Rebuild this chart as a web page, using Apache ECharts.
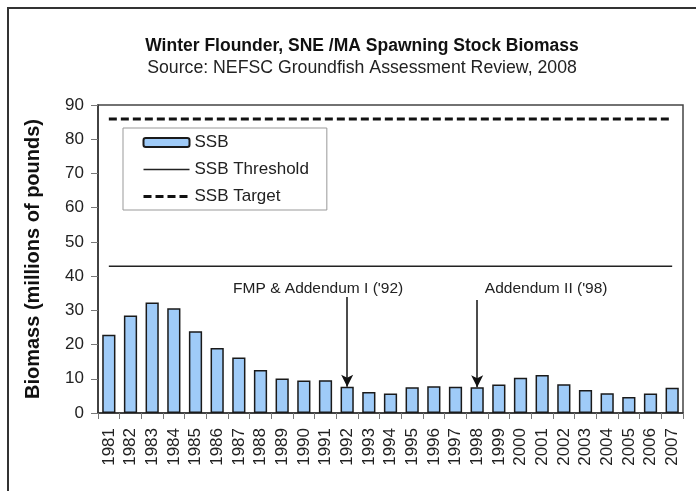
<!DOCTYPE html>
<html>
<head>
<meta charset="utf-8">
<script src="https://cdn.jsdelivr.net/npm/echarts@6/dist/echarts.min.js"></script>
<style>html,body{margin:0;padding:0;background:#fff;}#c{width:696px;height:491px;}</style>
</head>
<body>
<div id="c"></div>
<script>
const years = ['1981','1982','1983','1984','1985','1986','1987','1988','1989','1990','1991','1992','1993','1994','1995','1996','1997','1998','1999','2000','2001','2002','2003','2004','2005','2006','2007'];
const ssb = [22.9,28.5,32.3,30.6,23.9,19.0,16.2,12.6,10.1,9.5,9.6,7.7,6.1,5.7,7.5,7.8,7.7,7.5,8.3,10.3,11.1,8.4,6.7,5.8,4.7,5.7,7.4];
const ssbThreshold = 42.9;
const ssbTarget = 85.9;
const yTicks = [0,10,20,30,40,50,60,70,80,90];
const annotations = [
  {year: '1992', text: "FMP & Addendum I ('92)", textValue: 36.3, arrowStart: 33.9, dx: -29},
  {year: '1998', text: "Addendum II ('98)", textValue: 36.3, arrowStart: 33.0, dx: 69}
];

const font = "Arial, 'Liberation Sans', Helvetica, sans-serif";
const chart = echarts.init(document.getElementById('c'), null, {renderer: 'canvas'});
const first = years[0], last = years[years.length - 1];

chart.setOption({
  animation: false,
  backgroundColor: '#fff',
  textStyle: {fontFamily: font, color: '#222'},
  title: {
    text: 'Winter Flounder, SNE /MA Spawning Stock Biomass',
    subtext: 'Source: NEFSC Groundfish Assessment Review, 2008',
    left: 362, top: 37, textAlign: 'center', itemGap: 4, padding: 0,
    textStyle: {fontFamily: font, fontSize: 17.5, fontWeight: 'bold', color: '#111'},
    subtextStyle: {fontFamily: font, fontSize: 17.7, color: '#222'}
  },
  graphic: [{
    type: 'rect', silent: true, z: 100,
    shape: {x: 8, y: 8, width: 760, height: 560},
    style: {fill: 'none', stroke: '#333', lineWidth: 2}
  }],
  legend: {
    orient: 'vertical', left: 123, top: 128,
    padding: [6, 18, 5, 19], itemGap: 10,
    itemWidth: 46, itemHeight: 9,
    borderColor: '#999', borderWidth: 1,
    textStyle: {fontFamily: font, fontSize: 17, color: '#222'},
    data: [
      {name: 'SSB'},
      {name: 'SSB Threshold', itemStyle: {opacity: 0}, lineStyle: {width: 1.5, color: '#222'}},
      {name: 'SSB Target', itemStyle: {opacity: 0}, lineStyle: {width: 3, color: '#111', type: [8, 4]}}
    ]
  },
  grid: {left: 98, right: 13, top: 105, bottom: 78, show: true, borderColor: '#444', borderWidth: 1.5, backgroundColor: 'transparent'},
  xAxis: {
    type: 'category', data: years, boundaryGap: true,
    axisLine: {lineStyle: {color: '#333', width: 1.5}},
    axisTick: {show: true, alignWithLabel: false, length: 6, lineStyle: {color: '#777'}},
    axisLabel: {rotate: 90, fontSize: 17, color: '#222', margin: 15, fontFamily: font, interval: 0}
  },
  yAxis: {
    type: 'value', min: yTicks[0], max: yTicks[yTicks.length - 1], interval: 10,
    name: 'Biomass (millions of pounds)', nameLocation: 'middle', nameGap: 55,
    nameTextStyle: {fontFamily: font, fontSize: 20, fontWeight: 'bold', color: '#111'},
    axisLine: {show: true, lineStyle: {color: '#333', width: 1.5}},
    axisTick: {show: true, length: 7, lineStyle: {color: '#777'}},
    axisLabel: {fontSize: 17, color: '#222', margin: 14, fontFamily: font},
    splitLine: {show: false}
  },
  series: [
    {
      name: 'SSB', type: 'bar', data: ssb, barWidth: '61%',
      itemStyle: {color: '#9fcbf8', borderColor: '#1a1a1a', borderWidth: 1.5},
      markLine: {
        silent: true, animation: false,
        symbol: ['none', 'arrow'], symbolSize: [9, 12],
        lineStyle: {color: '#111', width: 1.5, type: 'solid'},
        label: {show: false},
        data: annotations.map(a => [
          {coord: [a.year, a.arrowStart]},
          {coord: [a.year, ssb[years.indexOf(a.year)]]}
        ])
      },
      markPoint: {
        silent: true, symbol: 'rect', symbolSize: 0,
        label: {show: true, position: 'inside', fontFamily: font, fontSize: 15.5, color: '#222', formatter: p => p.name},
        data: annotations.map(a => ({name: a.text, coord: [a.year, a.textValue], label: {offset: [a.dx, 0]}}))
      }
    },
    {
      name: 'SSB Threshold', type: 'line', symbol: 'none',
      data: [[first, ssbThreshold], [last, ssbThreshold]],
      lineStyle: {color: '#222', width: 1.5}, itemStyle: {color: '#222', opacity: 0}
    },
    {
      name: 'SSB Target', type: 'line', symbol: 'none',
      data: [[first, ssbTarget], [last, ssbTarget]],
      lineStyle: {color: '#111', width: 3, type: [8, 4]}, itemStyle: {color: '#111', opacity: 0}
    }
  ]
});
</script>
</body>
</html>
